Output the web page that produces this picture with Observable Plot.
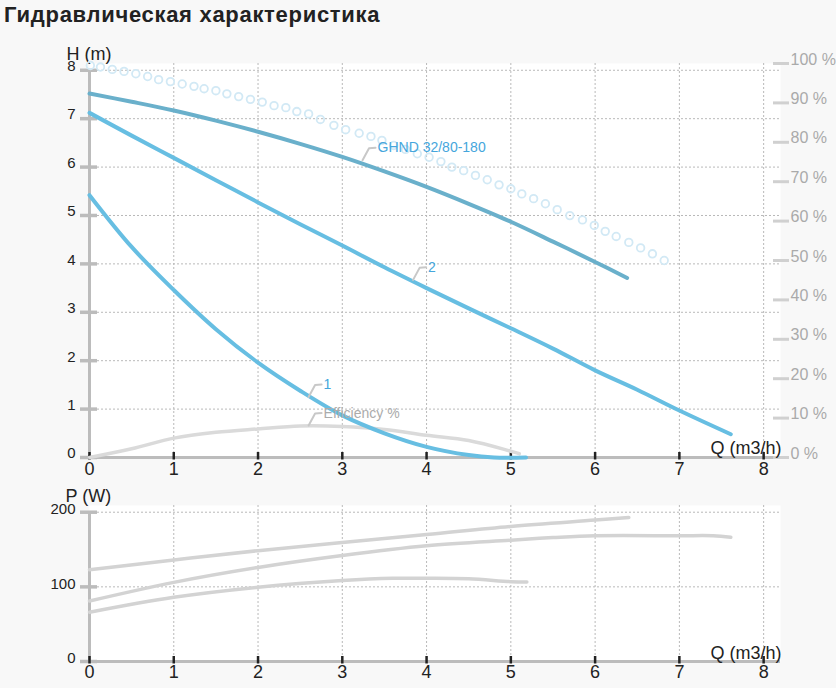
<!DOCTYPE html>
<html><head><meta charset="utf-8">
<script src="https://cdn.jsdelivr.net/npm/d3@7"></script>
<script src="https://cdn.jsdelivr.net/npm/@observablehq/plot@0.6"></script>
<style>
html,body{margin:0;padding:0;}
body{background:#f8f8f8;width:836px;height:688px;overflow:hidden;position:relative;font-family:"Liberation Sans",Arial,sans-serif;}
#title{position:absolute;left:4px;top:4px;font-size:22px;letter-spacing:0.7px;font-weight:bold;color:#222;line-height:22px;white-space:nowrap;}
#topchart{position:absolute;left:0;top:30px;}
#bottomchart{position:absolute;left:0;top:485px;}
</style></head><body>
<div id="title">Гидравлическая характеристика</div>
<div id="topchart"></div><div id="bottomchart"></div>
<script>
// ---------- data ----------
const Q_TICKS = [0, 1, 2, 3, 4, 5, 6, 7, 8];
const H_TICKS = [0, 1, 2, 3, 4, 5, 6, 7, 8];
const PCT_TICKS = [0, 10, 20, 30, 40, 50, 60, 70, 80, 90, 100];
const P_TICKS = [0, 100, 200];

// H(Q) curves
const GHND_Q = [0, 0.5, 1, 1.5, 2, 2.5, 3, 3.5, 4, 4.5, 5, 5.5, 6, 6.38];
const GHND_H = [7.52, 7.35, 7.17, 6.96, 6.73, 6.48, 6.21, 5.91, 5.59, 5.24, 4.87, 4.46, 4.04, 3.71];
const C2_Q = [0, 0.5, 1, 1.5, 2, 2.5, 3, 3.5, 4, 4.5, 5, 5.5, 6, 6.5, 7, 7.61];
const C2_H = [7.12, 6.65, 6.19, 5.73, 5.27, 4.82, 4.38, 3.93, 3.5, 3.08, 2.67, 2.25, 1.8, 1.4, 0.97, 0.48];
const C1_Q = [0, 0.5, 1, 1.5, 2, 2.5, 3, 3.5, 4, 4.5, 4.8, 5.18];
const C1_H = [5.42, 4.35, 3.46, 2.65, 1.96, 1.38, 0.87, 0.5, 0.22, 0.05, 0.0, 0.0];
// efficiency curve as drawn (H units)
const EFF_Q = [0, 0.5, 1, 1.5, 2, 2.5, 3, 3.5, 4, 4.5, 5, 5.1];
const EFF_H = [0, 0.18, 0.40, 0.52, 0.59, 0.65, 0.64, 0.58, 0.46, 0.35, 0.13, 0.08];
// circle series on right % axis
const CIRC_Q = [0.01,0.13,0.27,0.41,0.55,0.69,0.82,0.96,1.10,1.24,1.36,1.50,1.63,1.77,1.91,2.05,2.19,2.33,2.46,2.60,2.74,2.90,3.04,3.20,3.34,3.47,3.61,3.75,3.89,4.03,4.17,4.30,4.44,4.58,4.72,4.86,5.00,5.13,5.27,5.41,5.55,5.70,5.85,5.99,6.12,6.25,6.40,6.54,6.68,6.82];
const CIRC_PCT = [99.5,99.1,98.5,98.0,97.4,96.7,95.9,95.4,94.8,94.2,93.6,93.1,92.3,91.6,90.9,90.2,89.3,88.8,87.8,87.2,85.8,84.3,83.2,82.3,81.5,80.5,79.2,78.2,77.1,76.2,75.1,73.7,72.8,71.6,70.5,69.2,68.2,66.9,65.7,64.4,62.9,61.4,60.3,58.9,57.4,56.1,54.6,53.2,51.7,50.0];

// P(Q) curves
const P_GHND_Q = [0, 1, 2, 3, 4, 5, 6, 6.4];
const P_GHND = [123, 136, 148.5, 159.5, 170, 181, 189.5, 193];
const P2_Q = [0, 1, 2, 3, 4, 5, 5.5, 6, 7, 7.4, 7.61];
const P2 = [81, 106, 126, 142, 155, 162.5, 166, 168.5, 168.5, 168.5, 166.5];
const P1_Q = [0, 1, 2, 3, 3.6, 4, 4.5, 5, 5.19];
const P1 = [66, 86, 99.5, 108.5, 111.5, 111.5, 110.7, 107, 106.5];

// series labels: text and the point on the curve where the leader starts
const LABEL_TEXT = ["GHND 32/80-180", "2", "1", "Efficiency %"];
const LABEL_Q = [3.24, 3.84, 2.60, 2.60];
const LABEL_H = [6.14, 3.67, 1.25, 0.66];
const LABEL_COLOR = ["#45a6dc", "#45a6dc", "#45a6dc", "#ababab"];

// ---------- layout ----------
const W = 836, QMAX = 8.2, HMAX = 8.14, PMAX = 209;
const ML = 89, MR = 56;
const PXQ = (W - ML - MR) / QMAX;
const TOP_H = 455, TOP_MT = 33, TOP_MB = 28;
const PXH = (TOP_H - TOP_MT - TOP_MB) / HMAX;
const BOT_H = 203, BOT_MT = 20, BOT_MB = 27;
const PXP = (BOT_H - BOT_MT - BOT_MB) / PMAX;

const FONT = "'Liberation Sans', Arial, sans-serif";
const style = `background: transparent; overflow: visible; font-family: ${FONT};`;
const GRID = "#b9b9b9", AXIS = "#bcbcbc";
const CURVE = "catmull-rom";
const zip = (xs, ys) => xs.map((x, i) => ({q: x, v: ys[i]}));

const labels = LABEL_TEXT.map((t, i) => ({text: t, q: LABEL_Q[i], h: LABEL_H[i], color: LABEL_COLOR[i]}));
const leaders = labels.flatMap((l, i) => [
  {id: i, q: l.q, h: l.h},
  {id: i, q: l.q + 6.5 / PXQ, h: l.h + 12 / PXH},
  {id: i, q: l.q + 13 / PXQ, h: l.h + 12.5 / PXH}
]);

const topChart = Plot.plot({
  width: W, height: TOP_H,
  marginLeft: ML, marginRight: MR, marginTop: TOP_MT, marginBottom: TOP_MB,
  style,
  x: {domain: [0, QMAX], axis: null},
  y: {domain: [0, HMAX], axis: null},
  marks: [
    Plot.frame({fill: "white", stroke: "none"}),
    Plot.ruleX(Q_TICKS.slice(1), {x: d => d, stroke: GRID, strokeDasharray: "2,2", strokeWidth: 1}),
    Plot.ruleY(H_TICKS.slice(1), {y: d => d, stroke: GRID, strokeDasharray: "2,2", strokeWidth: 1}),
    // axes
    Plot.ruleY([0], {x1: 0, x2: QMAX, stroke: AXIS, strokeWidth: 3}),
    Plot.ruleX([0], {y1: 0, y2: 8, stroke: AXIS, strokeWidth: 3}),
    Plot.ruleY(H_TICKS, {y: d => d, x1: -9 / PXQ, x2: 8 / PXQ, stroke: AXIS, strokeWidth: 3.5}),
    Plot.ruleX(Q_TICKS, {x: d => d, y1: -2.5 / PXH, y2: 5 / PXH, stroke: "#222", strokeWidth: 2.5}),
    Plot.text(Q_TICKS, {x: d => d, y: 0, dy: 12, text: d => String(d), fontSize: 18, fill: "#222"}),
    Plot.text(H_TICKS, {x: 0, y: d => d, dx: -14, dy: -4, textAnchor: "end", text: d => String(d), fontSize: 15, fill: "#222"}),
    // right % axis
    Plot.ruleY(PCT_TICKS, {y: p => p * HMAX / 100, x1: (773 - ML) / PXQ, x2: (789 - ML) / PXQ, stroke: "#d0d0d0", strokeWidth: 3}),
    Plot.text(PCT_TICKS, {y: p => p * HMAX / 100, x: QMAX, dx: 10, dy: -4, textAnchor: "start", text: p => p + " %", fontSize: 16, fill: "#aaaaaa"}),
    Plot.text(["H (m)"], {x: 0, y: HMAX, dx: -23, dy: -4, textAnchor: "start", lineAnchor: "bottom", fontSize: 18, fill: "#222"}),
    Plot.text(["Q (m3/h)"], {x: QMAX, y: 0, dx: 1, dy: -4, textAnchor: "end", lineAnchor: "bottom", fontSize: 18, fill: "#222"}),
    // series
    Plot.dot(zip(CIRC_Q, CIRC_PCT), {x: "q", y: d => d.v * HMAX / 100, r: 3.8, stroke: "#d2e9f5", strokeWidth: 1.8, fill: "none"}),
    Plot.line(zip(EFF_Q, EFF_H), {x: "q", y: "v", stroke: "#dadada", strokeWidth: 3.5, curve: CURVE}),
    Plot.line(zip(GHND_Q, GHND_H), {x: "q", y: "v", stroke: "#6ab0cb", strokeWidth: 4, curve: CURVE}),
    Plot.line(zip(C2_Q, C2_H), {x: "q", y: "v", stroke: "#67bee2", strokeWidth: 4, curve: CURVE}),
    Plot.line(zip(C1_Q, C1_H), {x: "q", y: "v", stroke: "#67bee2", strokeWidth: 4, curve: CURVE}),
    // labels
    Plot.line(leaders, {x: "q", y: "h", z: "id", stroke: "#c8c8c8", strokeWidth: 2}),
    Plot.text(labels, {x: "q", y: "h", text: "text", fill: "color", dx: 15, dy: -12.5, textAnchor: "start", fontSize: 14})
  ]
});
document.getElementById("topchart").appendChild(topChart);

const bottomChart = Plot.plot({
  width: W, height: BOT_H,
  marginLeft: ML, marginRight: MR, marginTop: BOT_MT, marginBottom: BOT_MB,
  style,
  x: {domain: [0, QMAX], axis: null},
  y: {domain: [0, PMAX], axis: null},
  marks: [
    Plot.frame({fill: "white", stroke: "none"}),
    Plot.ruleX(Q_TICKS.slice(1), {x: d => d, stroke: GRID, strokeDasharray: "2,2", strokeWidth: 1}),
    Plot.ruleY(P_TICKS.slice(1), {y: d => d, stroke: GRID, strokeDasharray: "2,2", strokeWidth: 1}),
    Plot.ruleY([0], {x1: 0, x2: QMAX, stroke: AXIS, strokeWidth: 3}),
    Plot.ruleX([0], {y1: 0, y2: 200, stroke: AXIS, strokeWidth: 3}),
    Plot.ruleY(P_TICKS, {y: d => d, x1: -9 / PXQ, x2: 8 / PXQ, stroke: AXIS, strokeWidth: 3.5}),
    Plot.ruleX(Q_TICKS, {x: d => d, y1: -2.5 / PXP, y2: 5 / PXP, stroke: "#222", strokeWidth: 2.5}),
    Plot.text(Q_TICKS, {x: d => d, y: 0, dy: 11, text: d => String(d), fontSize: 18, fill: "#222"}),
    Plot.text(P_TICKS, {x: 0, y: d => d, dx: -14, dy: -3, textAnchor: "end", text: d => String(d), fontSize: 15, fill: "#222"}),
    Plot.text(["P (W)"], {x: 0, y: PMAX, dx: -24, dy: -4, textAnchor: "start", lineAnchor: "bottom", fontSize: 18, fill: "#222"}),
    Plot.text(["Q (m3/h)"], {x: QMAX, y: 0, dx: 1, dy: -3, textAnchor: "end", lineAnchor: "bottom", fontSize: 18, fill: "#222"}),
    Plot.line(zip(P_GHND_Q, P_GHND), {x: "q", y: "v", stroke: "#d3d3d3", strokeWidth: 3.5, curve: CURVE}),
    Plot.line(zip(P2_Q, P2), {x: "q", y: "v", stroke: "#d3d3d3", strokeWidth: 3.5, curve: CURVE}),
    Plot.line(zip(P1_Q, P1), {x: "q", y: "v", stroke: "#d3d3d3", strokeWidth: 3.5, curve: CURVE})
  ]
});
document.getElementById("bottomchart").appendChild(bottomChart);
</script>
</body></html>
